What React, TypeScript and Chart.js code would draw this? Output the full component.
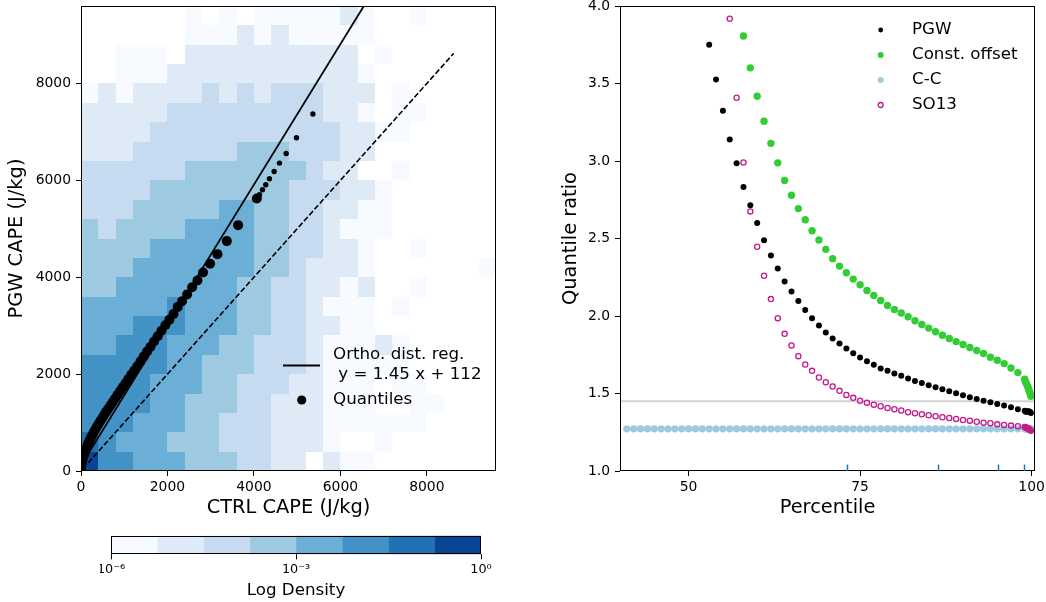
import { useEffect, useRef } from "react";
import { Chart, registerables } from "chart.js";

Chart.register(...registerables);

const FONT = "'DejaVu Sans', 'Liberation Sans', sans-serif";

// ================= Left panel: 2-D histogram of CAPE =================
const cellSize = 400; // J/kg, histogram bin width (both axes)
// density class per bin (0 = empty, 1..8 = colour class); first string = top row
const densityRows = [
  "000000101011111210010000",
  "000000111212111110000000",
  "001110222222222201000000",
  "001112222222222210000000",
  "121222232323332220100000",
  "222223333333332210110000",
  "222233333333333221100000",
  "222333333444333220000000",
  "333333444444432200100000",
  "333344444444333221000000",
  "333444445544332211000000",
  "434444555544332111000000",
  "444455555544332210010000",
  "444555555544322210000001",
  "445555555443322120010000",
  "555556555443321110100000",
  "555666555443322110000000",
  "556665554433321112100000",
  "666665544433321111100000",
  "666655544333221110110000",
  "666655444332221110011000",
  "666555443332221111110000",
  "765554443332221001000000",
  "866555444332202110000000",
];
const densityColors = ["#f7fbff", "#deebf7", "#c6dbef", "#9ecae1", "#6baed6", "#4292c6", "#2171b5", "#084594"];
const capeTicks = [0, 2000, 4000, 6000, 8000];

// quantiles, percentiles 40..99
const ctrlQuantiles = [
  0, 0, 2, 5, 9, 15, 22, 31, 42, 55,
  70, 87, 106, 127, 150, 175, 202, 231, 262, 295,
  330, 367, 406, 447, 490, 535, 582, 631, 682, 735,
  790, 847, 906, 967, 1030, 1095, 1162, 1231, 1302, 1375,
  1450, 1528, 1608, 1690, 1775, 1862, 1952, 2045, 2140, 2238,
  2338, 2454, 2570, 2693, 2824, 2986, 3156, 3373, 3634, 4067,
];
const pgwQuantiles = [
  20, 45, 72, 102, 133, 165, 198, 232, 268, 305,
  345, 388, 430, 476, 529, 582, 634, 690, 742, 801,
  858, 913, 971, 1031, 1089, 1155, 1220, 1286, 1354, 1425,
  1496, 1571, 1651, 1731, 1813, 1897, 1985, 2074, 2163, 2263,
  2362, 2466, 2566, 2672, 2781, 2894, 3008, 3125, 3242, 3388,
  3506, 3643, 3795, 3932, 4097, 4277, 4477, 4746, 5076, 5626,
];
// quantiles, percentiles 99.1..99.9
const ctrlTailQuantiles = [4128, 4198, 4275, 4359, 4468, 4591, 4746, 4985, 5364];
const pgwTailQuantiles = [5702, 5805, 5909, 6033, 6184, 6357, 6556, 6880, 7369];

const regSlope = 1.45;
const regIntercept = 112;
const regLineX = [60, 6700];
const oneToOneX = [170, 8620];

// ================= Colorbar =================
const colorbarEdges = [1e-6, 5.623e-6, 3.162e-5, 1.778e-4, 1e-3, 5.623e-3, 3.162e-2, 1.778e-1, 1];
const colorbarTicks = [1e-6, 1e-3, 1];
const colorbarTickLabels = ["10\u207B\u2076", "10\u207B\u00B3", "10\u2070"];

// ================= Right panel: quantile ratios =================
const percentiles = [
  41, 42, 43, 44, 45, 46, 47, 48, 49, 50,
  51, 52, 53, 54, 55, 56, 57, 58, 59, 60,
  61, 62, 63, 64, 65, 66, 67, 68, 69, 70,
  71, 72, 73, 74, 75, 76, 77, 78, 79, 80,
  81, 82, 83, 84, 85, 86, 87, 88, 89, 90,
  91, 92, 93, 94, 95, 96, 97, 98, 99,
  99.1, 99.2, 99.3, 99.4, 99.5, 99.6, 99.7, 99.8, 99.9,
];
const pgwRatio = [
  null, null, null, null, null, null, null, null, null, null,
  null, null, 3.750, 3.526, 3.324, 3.138, 2.985, 2.833, 2.714, 2.600,
  2.488, 2.391, 2.307, 2.223, 2.158, 2.096, 2.038, 1.986, 1.939, 1.894,
  1.855, 1.822, 1.790, 1.760, 1.732, 1.708, 1.685, 1.661, 1.646, 1.629,
  1.614, 1.596, 1.581, 1.567, 1.554, 1.541, 1.528, 1.515, 1.502, 1.489,
  1.476, 1.465, 1.454, 1.444, 1.433, 1.422, 1.411, 1.399, 1.388,
  1.385, 1.383, 1.382, 1.384, 1.384, 1.385, 1.381, 1.380, 1.374,
];
const offsetRatio = [
  null, null, null, null, null, null, null, null, null, null,
  null, null, null, null, null, null, null, 3.806, 3.601, 3.418,
  3.257, 3.114, 2.988, 2.875, 2.779, 2.693, 2.621, 2.550, 2.490, 2.430,
  2.370, 2.322, 2.279, 2.238, 2.202, 2.165, 2.133, 2.100, 2.068, 2.042,
  2.019, 1.995, 1.969, 1.945, 1.922, 1.898, 1.876, 1.855, 1.835, 1.816,
  1.797, 1.777, 1.758, 1.734, 1.715, 1.693, 1.665, 1.635, 1.592,
  1.578, 1.568, 1.558, 1.548, 1.537, 1.524, 1.511, 1.497, 1.482,
];
const ccRatio = [
  1.272, 1.272, 1.272, 1.272, 1.272, 1.272, 1.272, 1.272, 1.272, 1.272,
  1.272, 1.272, 1.272, 1.272, 1.272, 1.272, 1.272, 1.272, 1.272, 1.272,
  1.272, 1.272, 1.272, 1.272, 1.272, 1.272, 1.272, 1.272, 1.272, 1.272,
  1.272, 1.272, 1.272, 1.272, 1.272, 1.272, 1.272, 1.272, 1.272, 1.272,
  1.272, 1.272, 1.272, 1.272, 1.272, 1.272, 1.272, 1.272, 1.272, 1.272,
  1.272, 1.272, 1.272, 1.272, 1.272, 1.272, 1.272, 1.272, 1.272,
  1.272, 1.272, 1.272, 1.272, 1.272, 1.272, 1.272, 1.272, 1.272,
];
const so13Ratio = [
  null, null, null, null, null, null, null, null, null, null,
  null, null, null, null, null, 3.918, 3.408, 2.990, 2.675, 2.447,
  2.260, 2.109, 1.986, 1.885, 1.810, 1.741, 1.687, 1.646, 1.603, 1.573,
  1.545, 1.517, 1.491, 1.472, 1.454, 1.441, 1.428, 1.418, 1.407, 1.398,
  1.390, 1.379, 1.373, 1.366, 1.360, 1.353, 1.347, 1.342, 1.336, 1.329,
  1.325, 1.318, 1.312, 1.308, 1.301, 1.297, 1.293, 1.289, 1.284,
  1.282, 1.280, 1.278, 1.276, 1.274, 1.271, 1.268, 1.264, 1.259,
];
const ratioReference = 1.45;
const rugPercentiles = [73.1, 86.4, 95.1, 98.9];
const percentileTicks = [50, 75, 100];
const ratioTicks = [1.0, 1.5, 2.0, 2.5, 3.0, 3.5, 4.0];
const percentileRange = [40, 100.5];
const ratioRange = [1.0, 4.0];

const seriesColors = { pgw: "#000000", offset: "#32cd32", cc: "#9ecae1", so13: "#c51b8a" };

// ================= helpers =================
const toPoints = (xs: any[], ys: any[]) =>
  xs.map((x, i) => ({ x, y: ys[i] })).filter((p) => p.y !== null && p.y !== undefined);

const tickFont = { family: FONT, size: 13.9 };
const titleFont = { family: FONT, size: 19.4 };
const gridTicks = { display: true, drawOnChartArea: false, drawTicks: true, tickLength: 5, color: "#000", lineWidth: 1 };

const fitX = (h: number) => (s: any) => { s.height = h; s.paddingLeft = 0; s.paddingRight = 0; };
const fitY = (w: number) => (s: any) => { s.width = w; s.paddingTop = 0; s.paddingBottom = 0; };

const framePlugin = {
  id: "frame",
  afterDatasetsDraw(chart: any) {
    const { ctx, chartArea: a } = chart;
    ctx.save();
    ctx.strokeStyle = "#000";
    ctx.lineWidth = 1;
    const l = Math.round(a.left) + 0.5, t = Math.round(a.top) + 0.5;
    const r = Math.round(a.right) - 0.5, b = Math.round(a.bottom) - 0.5;
    ctx.strokeRect(l, t, r - l, b - t);
    ctx.restore();
  },
};

const heatmapPlugin = {
  id: "heatmap",
  beforeDatasetsDraw(chart: any) {
    const { ctx, chartArea: a, scales } = chart;
    const xs = scales.x, ys = scales.y;
    ctx.save();
    ctx.beginPath();
    ctx.rect(a.left, a.top, a.right - a.left, a.bottom - a.top);
    ctx.clip();
    const n = densityRows.length;
    densityRows.forEach((row, i) => {
      const yb = n - 1 - i;
      for (let c = 0; c < row.length; c++) {
        const level = Number(row[c]);
        if (!level) continue;
        const x0 = Math.round(xs.getPixelForValue(c * cellSize));
        const x1 = Math.round(xs.getPixelForValue((c + 1) * cellSize));
        const y0 = Math.round(ys.getPixelForValue((yb + 1) * cellSize));
        const y1 = Math.round(ys.getPixelForValue(yb * cellSize));
        ctx.fillStyle = densityColors[level - 1];
        ctx.fillRect(x0, y0, x1 - x0, y1 - y0);
      }
    });
    ctx.restore();
  },
};

const leftLegendPlugin = {
  id: "leftLegend",
  afterDraw(chart: any) {
    const { ctx } = chart;
    ctx.save();
    ctx.fillStyle = "#000";
    ctx.strokeStyle = "#000";
    ctx.font = `16.7px ${FONT}`;
    ctx.textBaseline = "middle";
    ctx.textAlign = "left";
    ctx.lineWidth = 2;
    ctx.beginPath();
    ctx.moveTo(283, 365.5);
    ctx.lineTo(320, 365.5);
    ctx.stroke();
    ctx.fillText("Ortho. dist. reg.", 333, 355);
    ctx.fillText(` y = ${regSlope} x + ${regIntercept}`, 333, 375);
    ctx.beginPath();
    ctx.arc(301.7, 400, 4.6, 0, Math.PI * 2);
    ctx.fill();
    ctx.fillText("Quantiles", 333, 400);
    ctx.restore();
  },
};

const rightDecorPlugin = {
  id: "rightDecor",
  afterDatasetsDraw(chart: any) {
    const { ctx, chartArea: a, scales } = chart;
    ctx.save();
    ctx.strokeStyle = "#1f77b4";
    ctx.lineWidth = 1.5;
    rugPercentiles.forEach((p) => {
      const px = Math.round(scales.x.getPixelForValue(p)) + 0.5;
      ctx.beginPath();
      ctx.moveTo(px, a.bottom);
      ctx.lineTo(px, a.bottom - 6.5);
      ctx.stroke();
    });
    ctx.restore();
  },
  afterDraw(chart: any) {
    const { ctx } = chart;
    const ox = 880.7 - 540;
    const tx = 912 - 540;
    const items = [
      { label: "PGW", color: seriesColors.pgw, r: 2.4, open: false, y: 30 },
      { label: "Const. offset", color: seriesColors.offset, r: 3, open: false, y: 55 },
      { label: "C-C", color: seriesColors.cc, r: 3, open: false, y: 80 },
      { label: "SO13", color: seriesColors.so13, r: 2.5, open: true, y: 105 },
    ];
    ctx.save();
    ctx.font = `16.7px ${FONT}`;
    ctx.textBaseline = "middle";
    ctx.textAlign = "left";
    items.forEach((it) => {
      ctx.beginPath();
      ctx.arc(ox, it.y, it.r, 0, Math.PI * 2);
      if (it.open) {
        ctx.strokeStyle = it.color;
        ctx.lineWidth = 1.3;
        ctx.stroke();
      } else {
        ctx.fillStyle = it.color;
        ctx.fill();
      }
      ctx.fillStyle = "#000";
      ctx.fillText(it.label, tx, it.y);
    });
    ctx.restore();
  },
};

function leftConfig(): any {
  const regPts = regLineX.map((x) => ({ x, y: regSlope * x + regIntercept }));
  const idPts = oneToOneX.map((x) => ({ x, y: x }));
  return {
    type: "scatter",
    data: {
      datasets: [
        { data: regPts, showLine: true, pointRadius: 0, borderColor: "#000", borderWidth: 1.8, fill: false, order: 1, clip: 0 },
        { data: idPts, showLine: true, pointRadius: 0, borderColor: "#000", borderWidth: 1.6, borderDash: [5.5, 2.4], fill: false, order: 1, clip: 0 },
        { data: toPoints(ctrlQuantiles, pgwQuantiles), pointRadius: 5, backgroundColor: "#000", borderWidth: 0, order: 2, clip: 0 },
        { data: toPoints(ctrlTailQuantiles, pgwTailQuantiles), pointRadius: 2.7, backgroundColor: "#000", borderWidth: 0, order: 2, clip: 0 },
      ],
    },
    options: {
      animation: false,
      responsive: false,
      devicePixelRatio: 1,
      events: [],
      layout: { padding: { left: 0, right: 24, top: 6, bottom: 0 } },
      plugins: { legend: { display: false }, tooltip: { enabled: false } },
      elements: { point: { hoverRadius: 0 } },
      scales: {
        x: {
          type: "linear", min: 0, max: 9600, position: "bottom",
          afterBuildTicks: (s: any) => { s.ticks = capeTicks.map((v) => ({ value: v })); },
          afterFit: fitX(59),
          ticks: { color: "#000", font: tickFont, padding: 3, maxRotation: 0, autoSkip: false, callback: (v: any) => String(v) },
          grid: gridTicks,
          border: { display: false },
          title: { display: true, text: "CTRL CAPE (J/kg)", color: "#000", font: titleFont, padding: { top: 0, bottom: 10 } },
        },
        y: {
          type: "linear", min: 0, max: 9600, position: "left",
          afterBuildTicks: (s: any) => { s.ticks = capeTicks.map((v) => ({ value: v })); },
          afterFit: fitY(81),
          ticks: { color: "#000", font: tickFont, padding: 5, autoSkip: false, callback: (v: any) => String(v) },
          grid: gridTicks,
          border: { display: false },
          title: { display: true, text: "PGW CAPE (J/kg)", color: "#000", font: titleFont, padding: { top: 5, bottom: 0 } },
        },
      },
    },
    plugins: [heatmapPlugin, framePlugin, leftLegendPlugin],
  };
}

function rightConfig(): any {
  return {
    type: "scatter",
    data: {
      datasets: [
        { data: percentileRange.map((x) => ({ x, y: ratioReference })), showLine: true, pointRadius: 0, borderColor: "#d3d3d3", borderWidth: 2, fill: false, order: 5, clip: 0 },
        { data: toPoints(percentiles, pgwRatio), pointRadius: 3, backgroundColor: seriesColors.pgw, borderWidth: 0, order: 4, clip: 0 },
        { data: toPoints(percentiles, offsetRatio), pointRadius: 3.7, backgroundColor: seriesColors.offset, borderWidth: 0, order: 3, clip: 0 },
        { data: toPoints(percentiles, ccRatio), pointRadius: 3.7, backgroundColor: seriesColors.cc, borderWidth: 0, order: 2, clip: 0 },
        { data: toPoints(percentiles, so13Ratio), pointRadius: 2.6, backgroundColor: "rgba(255,255,255,0)", borderColor: seriesColors.so13, borderWidth: 1.3, order: 1, clip: 0 },
      ],
    },
    options: {
      animation: false,
      responsive: false,
      devicePixelRatio: 1,
      events: [],
      layout: { padding: { left: 0, right: 11, top: 6, bottom: 0 } },
      plugins: { legend: { display: false }, tooltip: { enabled: false } },
      elements: { point: { hoverRadius: 0 } },
      scales: {
        x: {
          type: "linear", min: percentileRange[0], max: percentileRange[1], position: "bottom",
          afterBuildTicks: (s: any) => { s.ticks = percentileTicks.map((v) => ({ value: v })); },
          afterFit: fitX(59),
          ticks: { color: "#000", font: tickFont, padding: 3, maxRotation: 0, autoSkip: false, callback: (v: any) => String(v) },
          grid: gridTicks,
          border: { display: false },
          title: { display: true, text: "Percentile", color: "#000", font: titleFont, padding: { top: 0, bottom: 10 } },
        },
        y: {
          type: "linear", min: ratioRange[0], max: ratioRange[1], position: "left",
          afterBuildTicks: (s: any) => { s.ticks = ratioTicks.map((v) => ({ value: v })); },
          afterFit: fitY(80),
          ticks: { color: "#000", font: tickFont, padding: 5, autoSkip: false, callback: (v: any) => Number(v).toFixed(1) },
          grid: gridTicks,
          border: { display: false },
          title: { display: true, text: "Quantile ratio", color: "#000", font: titleFont, padding: { top: 19, bottom: 0 } },
        },
      },
    },
    plugins: [framePlugin, rightDecorPlugin],
  };
}

function colorbarConfig(): any {
  return {
    type: "bar",
    data: {
      labels: [""],
      datasets: densityColors.map((c, i) => ({
        data: [[colorbarEdges[i], colorbarEdges[i + 1]]],
        backgroundColor: c,
        borderWidth: 0,
        grouped: false,
        barPercentage: 1,
        categoryPercentage: 1,
      })),
    },
    options: {
      indexAxis: "y",
      animation: false,
      responsive: false,
      devicePixelRatio: 1,
      events: [],
      layout: { padding: { left: 11, right: 19, top: 15.7, bottom: 0 } },
      plugins: { legend: { display: false }, tooltip: { enabled: false } },
      scales: {
        x: {
          type: "logarithmic", min: colorbarEdges[0], max: colorbarEdges[colorbarEdges.length - 1], position: "bottom",
          afterBuildTicks: (s: any) => { s.ticks = colorbarTicks.map((v) => ({ value: v })); },
          afterFit: fitX(47.7),
          ticks: {
            color: "#000", font: { family: FONT, size: 12.8 }, padding: 3, maxRotation: 0, autoSkip: false,
            callback: (v: any) => { const k = colorbarTicks.indexOf(Number(v)); return k >= 0 ? colorbarTickLabels[k] : ""; },
          },
          grid: gridTicks,
          border: { display: false },
          title: { display: true, text: "Log Density", color: "#000", font: { family: FONT, size: 16.7 }, padding: { top: 0, bottom: 1 } },
        },
        y: { display: false },
      },
    },
    plugins: [framePlugin],
  };
}

export default function App() {
  const leftRef = useRef<HTMLCanvasElement>(null);
  const rightRef = useRef<HTMLCanvasElement>(null);
  const cbRef = useRef<HTMLCanvasElement>(null);

  useEffect(() => {
    const charts = [
      new Chart(leftRef.current as HTMLCanvasElement, leftConfig()),
      new Chart(rightRef.current as HTMLCanvasElement, rightConfig()),
      new Chart(cbRef.current as HTMLCanvasElement, colorbarConfig()),
    ];
    return () => charts.forEach((c) => c.destroy());
  }, []);

  return (
    <div style={{ position: "absolute", left: 0, top: 0, width: 1046, height: 602, background: "#fff", overflow: "hidden" }}>
      <canvas ref={leftRef} width={520} height={530} style={{ position: "absolute", left: 0, top: 0 }} />
      <canvas ref={rightRef} width={506} height={530} style={{ position: "absolute", left: 540, top: 0 }} />
      <canvas ref={cbRef} width={400} height={82} style={{ position: "absolute", left: 100, top: 520 }} />
    </div>
  );
}
